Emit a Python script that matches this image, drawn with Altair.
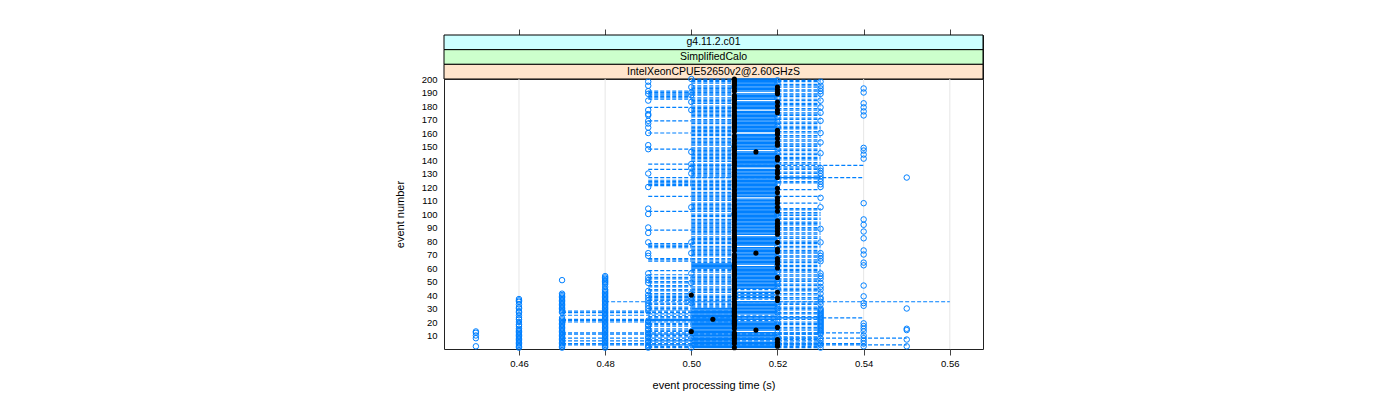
import altair as alt
import pandas as pd

# ---------------- data ----------------
EVENTS = list(range(1, 201))
X_TICKS = [0.46, 0.48, 0.50, 0.52, 0.54, 0.56]
Y_TICKS = [10, 20, 30, 40, 50, 60, 70, 80, 90, 100, 110, 120, 130, 140, 150,
           160, 170, 180, 190, 200]
X_DOMAIN = [0.4426, 0.5677]
Y_DOMAIN = [0, 200]

STRIP_LABELS = ["g4.11.2.c01", "SimplifiedCalo", "IntelXeonCPUE52650v2@2.60GHzS"]
STRIP_COLORS = ["#ccffff", "#ccffcc", "#ffe5cc"]

# blue open circles: event numbers per processing time
BLUE_045 = [2, 8, 10, 12, 13]
BLUE_046 = [1, 2, 3, 4, 5, 6, 7, 8, 9, 10, 11, 12, 13, 14, 15, 17, 18, 20, 22, 23,
            25, 27, 28, 30, 31, 33, 35, 36, 37]
BLUE_047 = [1, 2, 3, 4, 5, 6, 7, 8, 9, 10, 11, 12, 13, 14, 15, 16, 17, 18, 19, 20,
            21, 22, 23, 27, 28, 29, 30, 31, 32, 33, 34, 35, 36, 37, 38, 39, 40, 41, 51]
BLUE_048 = [1, 2, 3, 4, 5, 6, 7, 8, 9, 10, 11, 12, 13, 14, 15, 16, 17, 18, 19, 20,
            21, 22, 23, 24, 25, 26, 27, 28, 29, 30, 31, 32, 33, 34, 35, 36, 37, 38,
            39, 40, 41, 42, 43, 44, 46, 48, 49, 50, 51, 52, 53, 54]
BLUE_049 = [1, 2, 3, 5, 6, 8, 9, 11, 12, 14, 15, 17, 18, 20, 21, 28, 30, 32, 34, 36,
            38, 40, 43, 49, 51, 53, 56, 69, 71, 79, 86, 90, 100, 104, 120, 130, 148,
            151, 160, 164, 167, 169, 173, 174, 177, 184, 189, 191, 195, 198]
BLUE_050 = [1, 8, 13, 34, 36, 38, 41, 49, 56, 71, 79, 105, 130, 134, 137, 146, 177,
            183, 188, 190, 194, 200]
BLUE_051 = [194, 150, 100, 60, 20]
BLUE_052 = [4, 9, 12, 18, 20, 24, 27, 30, 33, 45, 48, 50, 57, 62, 68, 76, 82, 98,
            100, 105, 113, 122, 125, 137, 145, 148, 165, 168, 172, 182, 186, 197, 199]
BLUE_053 = [1, 3, 4, 6, 8, 11, 12, 13, 14, 15, 16, 17, 18, 19, 20, 21, 22, 23, 24,
            25, 26, 27, 28, 29, 30, 33, 35, 37, 38, 41, 44, 46, 49, 52, 54, 56, 65,
            67, 69, 71, 79, 89, 105, 112, 120, 122, 124, 126, 128, 130, 132, 134,
            145, 153, 160, 169, 175, 179, 184, 189, 191, 193, 195, 198]
BLUE_054 = [2, 4, 6, 8, 10, 13, 15, 17, 19, 32, 34, 39, 47, 62, 64, 70, 73, 82, 87,
            92, 96, 108, 141, 144, 147, 149, 173, 176, 179, 182, 190, 193]
BLUE_055 = [2, 7, 14, 15, 30, 127]
BLUE_POINTS = [(0.45, BLUE_045), (0.46, BLUE_046), (0.47, BLUE_047),
               (0.48, BLUE_048), (0.49, BLUE_049), (0.50, BLUE_050),
               (0.51, BLUE_051), (0.52, BLUE_052), (0.53, BLUE_053),
               (0.54, BLUE_054), (0.55, BLUE_055)]

# black filled dots (one per event): events away from 0.51
BLACK_052 = [2, 3, 5, 7, 16, 36, 38, 42, 53, 60, 63, 65, 67, 72, 74, 79, 85, 87, 89,
             91, 93, 95, 102, 105, 108, 110, 112, 116, 119, 127, 130, 132, 135, 140,
             142, 151, 153, 156, 159, 160, 162, 175, 177, 180, 183, 189, 190, 192, 194]
BLACK_050 = [13, 40]
BLACK_0505 = [22]
BLACK_0515 = [14, 71, 146]

# dashed connecting lines: long ones (event, start, end)
SEG_EVENT = [35, 127, 136, 23, 12, 8, 4, 3, 11, 6, 28, 27, 25, 22, 21, 20]
SEG_START = [0.48, 0.49, 0.50, 0.49, 0.47, 0.47, 0.47, 0.47, 0.47, 0.47, 0.47,
             0.47, 0.47, 0.47, 0.47, 0.47]
SEG_END = [0.56, 0.54, 0.54, 0.54, 0.54, 0.55, 0.54, 0.55, 0.53, 0.53, 0.51, 0.51,
           0.51, 0.51, 0.51, 0.51]

# short connecting lines between neighbouring times (events having one)
BAND_049_050 = [1, 2, 3, 5, 6, 7, 9, 10, 11, 13, 14, 15, 17, 18, 19, 21, 22, 24, 26,
                29, 30, 31, 33, 34, 36, 37, 38, 39, 40, 41, 43, 44, 46, 47, 49, 50,
                52, 53, 55, 58, 65, 66, 67, 75, 76, 77, 78, 88, 102, 113, 121, 122,
                123, 124, 125, 133, 137, 148, 160, 169, 179, 185, 186, 187, 188, 189,
                190, 191]
BAND_050_051_SOLID = [1, 2, 3, 4, 5, 6, 7, 8, 9, 10, 11, 12, 13, 14, 15, 16, 17, 18,
                      19, 20, 21, 22, 23, 24, 25, 26, 27, 28, 29, 30, 60, 61, 62, 63]
BAND_050_051_GAPS = [41, 47, 56, 68, 77, 84, 97, 101, 109, 117, 126, 138, 150, 157,
                     166, 171, 181, 187, 196]
BAND_051_052_GAPS = [6, 13, 21, 23, 25, 36, 37, 39, 41, 43, 44, 62, 76, 84, 112, 134,
                     147, 160, 177, 184, 190]
BAND_051_052_DASH = [21, 23, 25, 37, 39, 41, 44]
BAND_052_053 = [1, 2, 3, 4, 5, 7, 8, 9, 11, 12, 14, 15, 16, 18, 19, 20, 22, 23, 24,
                26, 27, 29, 30, 31, 33, 34, 35, 37, 38, 40, 41, 43, 44, 45, 47, 48, 50,
                51, 52, 54, 55, 57, 58, 59, 61, 62, 64, 65, 66, 68, 69, 71, 72, 73, 75,
                76, 78, 79, 80, 82, 83, 85, 86, 88, 89, 90, 92, 93, 94, 96, 97, 99, 100,
                101, 103, 104, 108, 113, 118, 123, 124, 126, 127, 128, 130, 131, 133,
                134, 135, 137, 138, 140, 141, 142, 144, 145, 147, 148, 150, 151, 152,
                154, 155, 157, 158, 160, 161, 163, 164, 165, 167, 168, 170, 171, 173,
                174, 175, 177, 178, 180, 181, 182, 184, 185, 187, 188, 189, 191, 192,
                194, 195, 196, 198, 199]

BLUE = "#0080ff"
PLOT_W, PLOT_H, STRIP_H = 539, 270, 44

# ---------------- tables ----------------
pts = pd.DataFrame([{"time": t, "event": e} for t, evs in BLUE_POINTS for e in evs])

blk_rows = []
for e in EVENTS:
    if e in BLACK_052:
        t = 0.52
    elif e in BLACK_050:
        t = 0.50
    elif e in BLACK_0505:
        t = 0.505
    elif e in BLACK_0515:
        t = 0.515
    else:
        t = 0.51
    blk_rows.append({"time": t, "event": e})
blk = pd.DataFrame(blk_rows)

dash_rows, solid_rows = [], []
for e, a, b in zip(SEG_EVENT, SEG_START, SEG_END):
    dash_rows.append({"event": e, "time": a, "time2": b})
for e in BAND_049_050:
    dash_rows.append({"event": e, "time": 0.49, "time2": 0.50})
for e in EVENTS:
    if e in BAND_050_051_SOLID:
        solid_rows.append({"event": e, "time": 0.50, "time2": 0.51})
    elif e not in BAND_050_051_GAPS:
        dash_rows.append({"event": e, "time": 0.50, "time2": 0.51})
    if e in BAND_051_052_DASH:
        dash_rows.append({"event": e, "time": 0.51, "time2": 0.52})
    elif e not in BAND_051_052_GAPS:
        solid_rows.append({"event": e, "time": 0.51, "time2": 0.52})
for e in BAND_052_053:
    dash_rows.append({"event": e, "time": 0.52, "time2": 0.53})
seg_dash = pd.DataFrame(dash_rows)
seg_solid = pd.DataFrame(solid_rows)

# ---------------- chart ----------------
xscale = alt.Scale(domain=X_DOMAIN, nice=False, zero=False)
yscale = alt.Scale(domain=Y_DOMAIN, nice=False, zero=False)

x_axis = alt.Axis(values=X_TICKS, format=".2f", title="event processing time (s)",
                  grid=False, domain=False, tickSize=6, tickColor="#444",
                  labelFontSize=9.5, labelPadding=3, titleFontSize=11,
                  titleFontWeight="normal", titlePadding=12, labelColor="black",
                  titleColor="black")
y_axis = alt.Axis(values=Y_TICKS, title="event number", grid=False, domain=False,
                  ticks=False, labelFontSize=9.5, labelPadding=7, titleFontSize=11,
                  titleFontWeight="normal", titlePadding=16, labelColor="black",
                  titleColor="black")

X = alt.X("time:Q", scale=xscale, axis=x_axis)
Y = alt.Y("event:Q", scale=yscale, axis=y_axis)

grid = alt.Chart(pd.DataFrame({"time": X_TICKS, "event": [0] * len(X_TICKS),
                               "event2": [200] * len(X_TICKS)})).mark_rule(
    color="#e6e6e6", strokeWidth=1).encode(x=X, y=Y, y2="event2:Q")

dashed = alt.Chart(seg_dash).mark_rule(color=BLUE, strokeWidth=1.2,
                                       strokeDash=[4, 2]).encode(
    x=X, x2="time2:Q", y=Y)

solid = alt.Chart(seg_solid).mark_rule(color=BLUE, strokeWidth=1.4).encode(
    x=X, x2="time2:Q", y=Y)

blue = alt.Chart(pts).mark_point(shape="circle", filled=False, color=BLUE,
                                 size=30, strokeWidth=1, opacity=1).encode(x=X, y=Y)

black = alt.Chart(blk).mark_circle(color="black", size=26, opacity=1).encode(x=X, y=Y)

main = alt.layer(grid, dashed, solid, blue, black).properties(width=PLOT_W, height=PLOT_H)

strip_df = pd.DataFrame({"label": STRIP_LABELS, "color": STRIP_COLORS})
band = alt.Scale(paddingInner=0, paddingOuter=0)
strip_rect = alt.Chart(strip_df).mark_rect(stroke="black", strokeWidth=1).encode(
    x=alt.XDatum(X_DOMAIN[0], type="quantitative", scale=xscale,
                 axis=alt.Axis(orient="top", values=X_TICKS, labels=False, tickSize=6,
                               domain=False, title=None, grid=False,
                               tickColor="#444")),
    x2=alt.X2Datum(X_DOMAIN[1]),
    y=alt.Y("label:N", sort=STRIP_LABELS, axis=None, scale=band),
    color=alt.Color("color:N", scale=None))
strip_text = alt.Chart(strip_df).mark_text(fontSize=10.5, color="black").encode(
    x=alt.value(PLOT_W / 2),
    y=alt.Y("label:N", sort=STRIP_LABELS, axis=None, scale=band),
    text="label:N")
strips = alt.layer(strip_rect, strip_text).properties(width=PLOT_W, height=STRIP_H)

chart = alt.vconcat(strips, main, spacing=0, bounds="flush").properties(
    padding={"left": 385, "top": 20, "right": 5, "bottom": 5}
).configure(font="Liberation Sans").configure_view(stroke="#222", strokeWidth=1)

chart.save("out.html", embed_options={"renderer": "svg", "actions": False})
